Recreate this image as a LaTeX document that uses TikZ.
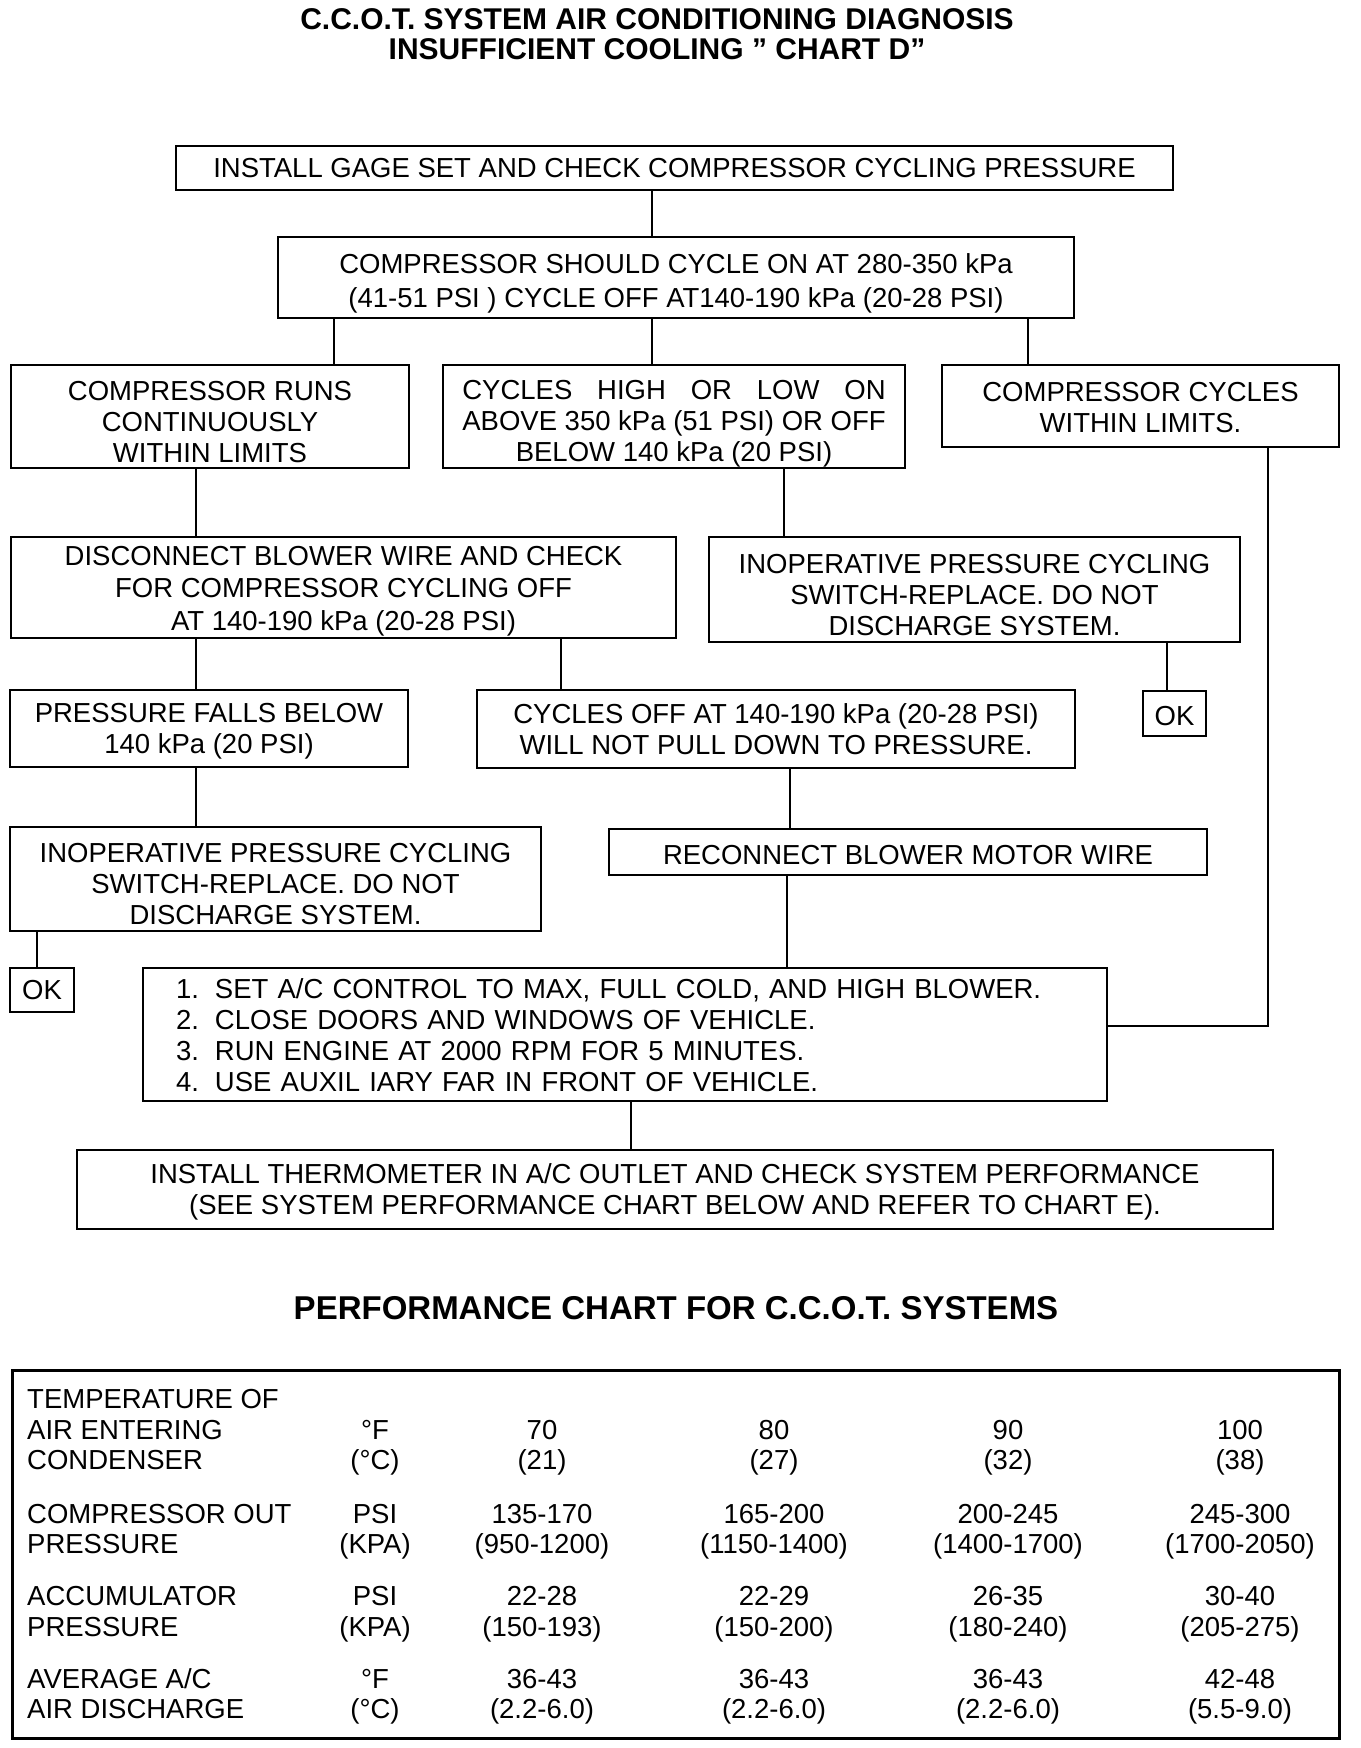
\documentclass[tikz,border=0pt]{standalone}
\usepackage{fontspec}
\setmainfont{Liberation Sans}
\usepackage{calc}
\newcommand\bodyfont{\fontsize{27.5}{31}\selectfont}
\newcommand\titlefont{\fontsize{30}{30}\selectfont\bfseries}
\newcommand\charttitlefont{\fontsize{33}{33}\selectfont\bfseries}
\newcommand\dn[1]{\rule{0pt}{#1pt}}
\tikzset{
  box/.style={draw, line width=2pt, inner sep=0pt, align=center, font=\bodyfont},
  conn/.style={line width=2pt},
  cell/.style={inner sep=0pt, font=\bodyfont, anchor=base},
  lcell/.style={inner sep=0pt, font=\bodyfont, anchor=base west},
}
\begin{document}
\begin{tikzpicture}[x=1pt, y=-1pt]
\useasboundingbox[fill=white] (0,0) rectangle (1360,1748);

% titles
\node[font=\titlefont, align=center, inner sep=0pt] (title) at (657,34)
  {C.C.O.T. SYSTEM AIR CONDITIONING DIAGNOSIS\\INSUFFICIENT COOLING " CHART D"};

% flowchart boxes
\node[box, minimum width=997, minimum height=44] (b1) at (674.5,168)
  {INSTALL GAGE SET AND CHECK COMPRESSOR CYCLING PRESSURE};
\node[box, minimum width=796, minimum height=81, font=\fontsize{27.5}{33.5}\selectfont] (b2) at (676,277.5)
  {\dn{32}COMPRESSOR SHOULD CYCLE ON AT 280-350 kPa\\(41-51 PSI ) CYCLE OFF AT140-190 kPa (20-28 PSI)};
\node[box, minimum width=398, minimum height=103] (b3a) at (210,416.5)
  {\dn{31}COMPRESSOR RUNS\\CONTINUOUSLY\\WITHIN LIMITS};
\node[box, minimum width=462, minimum height=103] (b3b) at (674,416.5)
  {\dn{34}\makebox[\widthof{ABOVE 350 kPa (51 PSI) OR OFF}][s]{CYCLES\hfill HIGH\hfill OR\hfill LOW\hfill ON}\\ABOVE 350 kPa (51 PSI) OR OFF\\BELOW 140 kPa (20 PSI)};
\node[box, minimum width=397, minimum height=82] (b3c) at (1140.5,406)
  {\dn{22}COMPRESSOR CYCLES\\WITHIN LIMITS.};
\node[box, minimum width=665, minimum height=101, font=\fontsize{27.5}{32.5}\selectfont] (b4a) at (343.5,587.5)
  {\dn{26.6}DISCONNECT BLOWER WIRE AND CHECK\\FOR COMPRESSOR CYCLING OFF\\AT 140-190 kPa (20-28 PSI)};
\node[box, minimum width=531, minimum height=105] (b4b) at (974.5,589.5)
  {\dn{30}INOPERATIVE PRESSURE CYCLING\\SWITCH-REPLACE. DO NOT\\DISCHARGE SYSTEM.};
\node[box, minimum width=63, minimum height=45] (ok1) at (1174.5,713.5) {\dn{24}OK};
\node[box, minimum width=398, minimum height=77] (b5a) at (209,728.5)
  {\dn{24.4}PRESSURE FALLS BELOW\\140 kPa (20 PSI)};
\node[box, minimum width=598, minimum height=78] (b5b) at (776,729)
  {CYCLES OFF AT 140-190 kPa (20-28 PSI)\\WILL NOT PULL DOWN TO PRESSURE.};
\node[box, minimum width=531, minimum height=104] (b6a) at (275.5,879)
  {\dn{29}INOPERATIVE PRESSURE CYCLING\\SWITCH-REPLACE. DO NOT\\DISCHARGE SYSTEM.};
\node[box, minimum width=598, minimum height=46] (b6b) at (908,852)
  {\dn{24.4}RECONNECT BLOWER MOTOR WIRE};
\node[box, minimum width=64, minimum height=44] (ok2) at (42,990) {OK};
\node[box, minimum width=964, minimum height=133, align=left, text width=898] (b7) at (625,1034.5)
  {\dn{22}\makebox[39pt][l]{1.}SET A/C CONTROL TO MAX, FULL COLD, AND HIGH BLOWER.\\
   \makebox[39pt][l]{2.}CLOSE DOORS AND WINDOWS OF VEHICLE.\\
   \makebox[39pt][l]{3.}RUN ENGINE AT 2000 RPM FOR 5 MINUTES.\\
   \makebox[39pt][l]{4.}USE AUXIL IARY FAR IN FRONT OF VEHICLE.};
\node[box, minimum width=1196, minimum height=79] (b8) at (675,1189.5)
  {\dn{24.4}INSTALL THERMOMETER IN A/C OUTLET AND CHECK SYSTEM PERFORMANCE\\(SEE SYSTEM PERFORMANCE CHART BELOW AND REFER TO CHART E).};

% connector x positions
\coordinate (x1) at (652,0);
\coordinate (x2) at (334,0);
\coordinate (x3) at (1028,0);
\coordinate (x4) at (196,0);
\coordinate (x5) at (784,0);
\coordinate (x6) at (561,0);
\coordinate (x7) at (1167,0);
\coordinate (x8) at (790,0);
\coordinate (x9) at (37,0);
\coordinate (x10) at (787,0);
\coordinate (x11) at (631,0);
\coordinate (cr) at (1268,1026);

\draw[conn] (b1.south -| x1) -- (b2.north -| x1);
\draw[conn] (b2.south -| x2) -- (b3a.north -| x2);
\draw[conn] (b2.south -| x1) -- (b3b.north -| x1);
\draw[conn] (b2.south -| x3) -- (b3c.north -| x3);
\draw[conn] (b3a.south -| x4) -- (b4a.north -| x4);
\draw[conn] (b3b.south -| x5) -- (b4b.north -| x5);
\draw[conn] (b3c.south -| cr) -- (cr) -- (b7.east |- cr);
\draw[conn] (b4a.south -| x4) -- (b5a.north -| x4);
\draw[conn] (b4a.south -| x6) -- (b5b.north -| x6);
\draw[conn] (b4b.south -| x7) -- (ok1.north -| x7);
\draw[conn] (b5a.south -| x4) -- (b6a.north -| x4);
\draw[conn] (b5b.south -| x8) -- (b6b.north -| x8);
\draw[conn] (b6a.south -| x9) -- (ok2.north -| x9);
\draw[conn] (b6b.south -| x10) -- (b7.north -| x10);
\draw[conn] (b7.south -| x11) -- (b8.north -| x11);

% performance chart
\node[font=\charttitlefont, inner sep=0pt] (ptitle) at (676,1308)
  {PERFORMANCE CHART FOR C.C.O.T. SYSTEMS};
\node[draw, line width=2.5pt, minimum width=1327, minimum height=368, anchor=north west, inner sep=0pt] (tbl) at (11,1369) {};

% row 1
\node[lcell] (r1a) at (27,1408) {TEMPERATURE OF};
\node[lcell] (r1b) at (27,1439) {AIR ENTERING};
\node[lcell] (r1c) at (27,1469) {CONDENSER};
\node[cell] (r1u1) at (375,1439) {°F};
\node[cell] (r1u2) at (375,1469) {(°C)};
\node[cell] (r1v1a) at (542,1439) {70};
\node[cell] (r1v1b) at (542,1469) {(21)};
\node[cell] (r1v2a) at (774,1439) {80};
\node[cell] (r1v2b) at (774,1469) {(27)};
\node[cell] (r1v3a) at (1008,1439) {90};
\node[cell] (r1v3b) at (1008,1469) {(32)};
\node[cell] (r1v4a) at (1240,1439) {100};
\node[cell] (r1v4b) at (1240,1469) {(38)};

% row 2
\node[lcell] (r2a) at (27,1523) {COMPRESSOR OUT};
\node[lcell] (r2b) at (27,1553) {PRESSURE};
\node[cell] (r2u1) at (375,1523) {PSI};
\node[cell] (r2u2) at (375,1553) {(KPA)};
\node[cell] (r2v1a) at (542,1523) {135-170};
\node[cell] (r2v1b) at (542,1553) {(950-1200)};
\node[cell] (r2v2a) at (774,1523) {165-200};
\node[cell] (r2v2b) at (774,1553) {(1150-1400)};
\node[cell] (r2v3a) at (1008,1523) {200-245};
\node[cell] (r2v3b) at (1008,1553) {(1400-1700)};
\node[cell] (r2v4a) at (1240,1523) {245-300};
\node[cell] (r2v4b) at (1240,1553) {(1700-2050)};

% row 3
\node[lcell] (r3a) at (27,1605) {ACCUMULATOR};
\node[lcell] (r3b) at (27,1636) {PRESSURE};
\node[cell] (r3u1) at (375,1605) {PSI};
\node[cell] (r3u2) at (375,1636) {(KPA)};
\node[cell] (r3v1a) at (542,1605) {22-28};
\node[cell] (r3v1b) at (542,1636) {(150-193)};
\node[cell] (r3v2a) at (774,1605) {22-29};
\node[cell] (r3v2b) at (774,1636) {(150-200)};
\node[cell] (r3v3a) at (1008,1605) {26-35};
\node[cell] (r3v3b) at (1008,1636) {(180-240)};
\node[cell] (r3v4a) at (1240,1605) {30-40};
\node[cell] (r3v4b) at (1240,1636) {(205-275)};

% row 4
\node[lcell] (r4a) at (27,1688) {AVERAGE A/C};
\node[lcell] (r4b) at (27,1718) {AIR DISCHARGE};
\node[cell] (r4u1) at (375,1688) {°F};
\node[cell] (r4u2) at (375,1718) {(°C)};
\node[cell] (r4v1a) at (542,1688) {36-43};
\node[cell] (r4v1b) at (542,1718) {(2.2-6.0)};
\node[cell] (r4v2a) at (774,1688) {36-43};
\node[cell] (r4v2b) at (774,1718) {(2.2-6.0)};
\node[cell] (r4v3a) at (1008,1688) {36-43};
\node[cell] (r4v3b) at (1008,1718) {(2.2-6.0)};
\node[cell] (r4v4a) at (1240,1688) {42-48};
\node[cell] (r4v4b) at (1240,1718) {(5.5-9.0)};
\end{tikzpicture}
\end{document}
